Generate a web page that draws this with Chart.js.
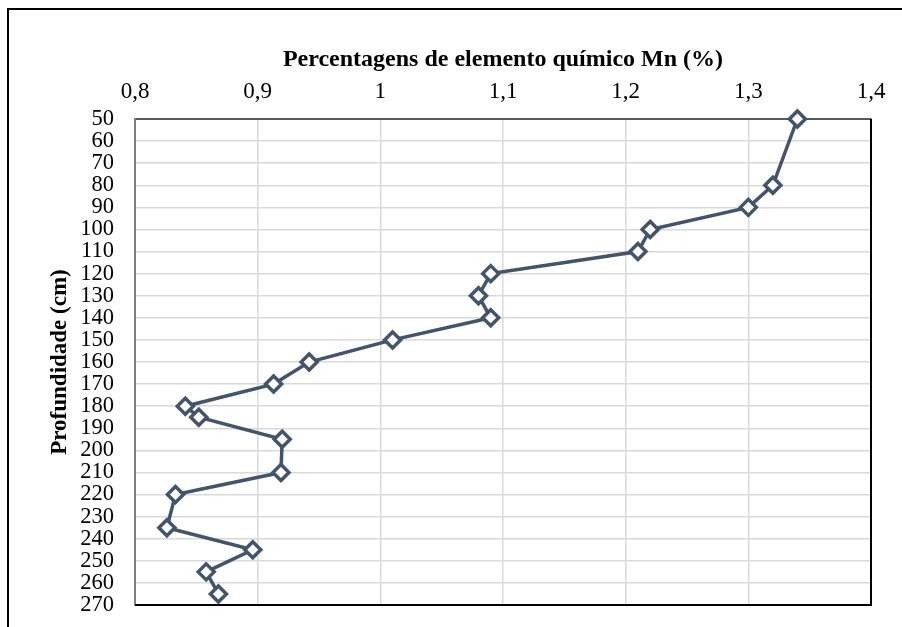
<!DOCTYPE html>
<html lang="pt">
<head>
    <meta charset="UTF-8">
    <title>Mn por profundidade</title>
    <style>
        body {
            margin: 0;
            padding: 0;
            background: #fff;
        }
        #chart-box {
            width: 902px;
            height: 627px;
        }
    </style>
</head>
<body>
    <div id="chart-box"><canvas id="mn-chart"></canvas></div>

    <script src="https://cdn.jsdelivr.net/npm/chart.js"></script>
    <script>
        // depth (cm) and Mn (%)
        const depths = [50, 80, 90, 100, 110, 120, 130, 140, 150, 160, 170, 180, 185, 195, 210, 220, 235, 245, 255, 265];
        const mnValues = [1.34, 1.32, 1.30, 1.22, 1.21, 1.09, 1.08, 1.09, 1.01, 0.942, 0.913, 0.841, 0.852, 0.92, 0.919, 0.833, 0.826, 0.896, 0.858, 0.868];
        const xTicks = [0.8, 0.9, 1.0, 1.1, 1.2, 1.3, 1.4];
        const yTicks = [50, 60, 70, 80, 90, 100, 110, 120, 130, 140, 150, 160, 170, 180, 190, 200, 210, 220, 230, 240, 250, 260, 270];

        const points = depths.map((d, i) => ({ x: mnValues[i], y: d }));
        const serif = 'Liberation Serif, Times New Roman, serif';

        // keep tick labels from eating into the plot area
        function noOverflow(axis) {
            axis.paddingLeft = 0;
            axis.paddingRight = 0;
            axis.paddingTop = 0;
            axis.paddingBottom = 0;
        }

        const framePlugin = {
            id: 'frame',
            beforeDraw(chart) {
                const ctx = chart.ctx;
                ctx.save();
                ctx.strokeStyle = '#000';
                ctx.lineWidth = 2;
                ctx.strokeRect(8, 9, 1000, 1000);
                ctx.restore();
            },
            afterDatasetsDraw(chart) {
                const a = chart.chartArea;
                const ctx = chart.ctx;
                ctx.save();
                ctx.strokeStyle = '#000';
                ctx.lineWidth = 2;
                ctx.beginPath();
                ctx.moveTo(a.left, a.bottom);
                ctx.lineTo(a.right, a.bottom);
                ctx.lineTo(a.right, a.top);
                ctx.stroke();
                ctx.restore();
            }
        };

        new Chart(document.getElementById('mn-chart'), {
            type: 'scatter',
            data: {
                datasets: [{
                    data: points,
                    showLine: true,
                    borderColor: '#44546a',
                    borderWidth: 3.5,
                    pointStyle: 'rectRot',
                    pointRadius: 8,
                    pointBackgroundColor: '#fff',
                    pointBorderColor: '#44546a',
                    pointBorderWidth: 3.5,
                    clip: false
                }]
            },
            options: {
                responsive: true,
                maintainAspectRatio: false,
                animation: false,
                layout: { padding: { left: 0, top: 0, right: 31, bottom: 22 } },
                plugins: {
                    legend: { display: false },
                    tooltip: { enabled: false }
                },
                scales: {
                    x: {
                        type: 'linear',
                        position: 'top',
                        min: 0.8,
                        max: 1.4,
                        afterBuildTicks: axis => { axis.ticks = xTicks.map(v => ({ value: v })); },
                        afterFit: axis => { axis.height = 119; noOverflow(axis); },
                        ticks: {
                            color: '#000',
                            padding: 13,
                            font: { family: serif, size: 23 },
                            callback: v => String(Math.round(v * 10) / 10).replace('.', ',')
                        },
                        grid: { color: '#d9d9d9', lineWidth: 1.5, drawTicks: false },
                        border: { color: '#595959', width: 2 },
                        title: {
                            display: true,
                            text: 'Percentagens de elemento químico Mn (%)',
                            color: '#000',
                            font: { family: serif, size: 24, weight: 'bold' },
                            padding: { top: 45, bottom: 0 }
                        }
                    },
                    y: {
                        type: 'linear',
                        reverse: true,
                        min: 50,
                        max: 270,
                        afterBuildTicks: axis => { axis.ticks = yTicks.map(v => ({ value: v })); },
                        afterFit: axis => { axis.width = 135; noOverflow(axis); },
                        ticks: {
                            color: '#000',
                            padding: 21,
                            autoSkip: false,
                            font: { family: serif, size: 22.5 }
                        },
                        grid: { color: '#d9d9d9', lineWidth: 1.5, drawTicks: false },
                        border: { color: '#7f7f7f', width: 2 },
                        title: {
                            display: true,
                            text: 'Profundidade (cm)',
                            color: '#000',
                            font: { family: serif, size: 23, weight: 'bold' },
                            padding: { top: 46, bottom: 0 }
                        }
                    }
                }
            },
            plugins: [framePlugin]
        });
    </script>
</body>
</html>
